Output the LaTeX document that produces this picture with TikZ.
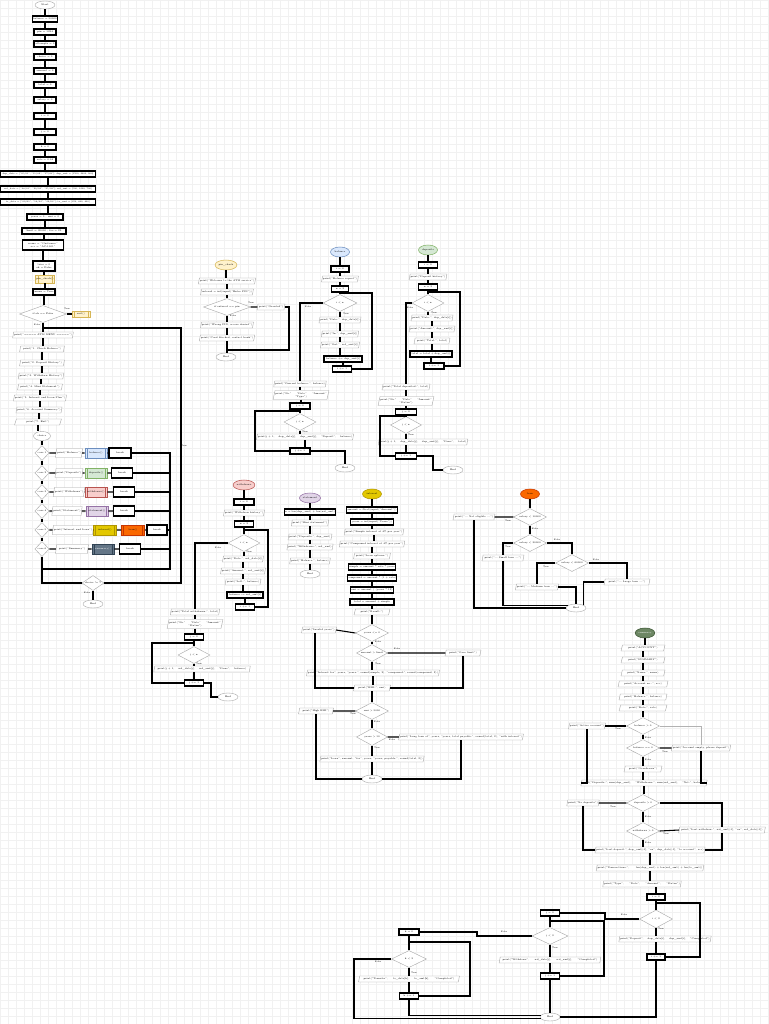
\documentclass[tikz,border=0pt]{standalone}
\usepackage{fontspec}
\usetikzlibrary{shapes.geometric}
\definecolor{lyel}{HTML}{FFF2CC}\definecolor{lyelD}{HTML}{D6B656}
\definecolor{lblue}{HTML}{DAE8FC}\definecolor{lblueD}{HTML}{6C8EBF}
\definecolor{lgreen}{HTML}{D5E8D4}\definecolor{lgreenD}{HTML}{82B366}
\definecolor{lred}{HTML}{F8CECC}\definecolor{lredD}{HTML}{B85450}
\definecolor{lpurple}{HTML}{E1D5E7}\definecolor{lpurpleD}{HTML}{9673A6}
\definecolor{gold}{HTML}{E3C800}\definecolor{goldD}{HTML}{B09500}
\definecolor{orng}{HTML}{FA6800}\definecolor{orngD}{HTML}{C73500}
\definecolor{slate}{HTML}{647687}\definecolor{slateD}{HTML}{314354}
\definecolor{dgreen}{HTML}{6D8764}\definecolor{dgreenD}{HTML}{3A5431}
\tikzset{
  every node/.style={font=\fontsize{1.8}{2.1}\selectfont, inner sep=0.3pt, align=center},
  sz/.style 2 args={minimum width=#1*0.75pt, minimum height=#2*0.75pt},
  term/.style={ellipse, draw=gray!70, line width=0.3pt, fill=white, sz={20}{8}},
  fstart/.style 2 args={ellipse, draw=#2, fill=#1, line width=0.4pt, sz={19}{10}},
  proc/.style={rectangle, draw=black, line width=0.9pt, fill=white, sz={#1}{6}},
  proc/.default=22,
  io/.style={trapezium, trapezium left angle=72, trapezium right angle=108, trapezium stretches=true,
    draw=gray!70, line width=0.3pt, fill=white, sz={#1}{6}},
  io/.default=40,
  dec/.style={diamond, aspect=2, draw=gray!70, line width=0.3pt, fill=white, sz={#1}{17}},
  dec/.default=33,
  sub/.style 2 args={rectangle, draw=#2, fill=#1, line width=0.7pt, sz={22}{10},
    path picture={\draw[#2, line width=0.4pt]
      ([xshift=1.6pt]path picture bounding box.north west) -- ([xshift=1.6pt]path picture bounding box.south west)
      ([xshift=-1.6pt]path picture bounding box.north east) -- ([xshift=-1.6pt]path picture bounding box.south east);}},
  flow/.style={draw=black, line width=0.8pt},
  lbl/.style={font=\fontsize{1.6}{1.9}\selectfont, inner sep=0},
  small/.style={font=\fontsize{1.6}{1.9}\selectfont},
}
\begin{document}
\begin{tikzpicture}[x=0.75pt, y=-0.75pt]
    \useasboundingbox (0,0) rectangle (768,1024);
    \fill[white] (0,0) rectangle (768,1024);
    \draw[gray!11, line width=0.15pt, step=6pt] (0,0) grid (768,1024);

    % Main program
    \node[term] (mS) at (45,5) {Start};
    \node[proc] (m1) at (45,19) {balance = 50000};
    \node[proc] (m2) at (45,32) {pin = 1234};
    \node[proc] (m3) at (45,44) {attempts = 0};
    \node[proc] (m4) at (45,57) {choice = 0};
    \node[proc] (m5) at (45,71) {amount = 0};
    \node[proc] (m6) at (45,85) {total = 0};
    \node[proc] (m7) at (45,100) {salary = 0};
    \node[proc] (m8) at (45,116) {i = 0};
    \node[proc] (m9) at (45,132) {j = 0};
    \node[proc] (m10) at (45,147) {k = 0};
    \node[proc] (m11) at (45,160) {rate = 0.04};
    \node[proc=95, small] (m12) at (48,174) {dep\_date = ["05/01", "11/02", "17/03"]; dep\_amt = [1500, 2300, 900]};
    \node[proc=95, small] (m13) at (48,189) {wd\_date = ["08/01", "20/02", "25/03"]; wd\_amt = [500, 1200, 700]};
    \node[proc=95, small] (m14) at (48,202) {tr\_date = ["09/01", "14/02", "29/03"]; tr\_amt = [250, 800, 400]};
    \node[proc=36] (m15) at (45,217) {years = 0 ; emi = 0};
    \node[proc=44] (m16) at (44,231) {limit = 20000 ; fee = 25};
    \node[proc=41, sz={41}{10}] (m17) at (43,245) {name = "Customer"\\acc = "AC-1001"};
    \node[proc, sz={22}{10}] (m18) at (44,266) {tries = 0\\ok = False};
    \node[sub={lyel}{lyelD}, sz={18}{8}] (m19) at (45,279) {pin\_check()};
    \node[proc] (m20) at (44,292) {menu = True};
    \node[dec=47] (mD1) at (43,314) {if ok == False};
    \node[sub={lyel}{lyelD}, sz={18}{6}] (mX) at (81,314) {exit()};
    \node[io=47] (m21) at (43,335) {print("===== ATM MENU =====")};
    \node[io=45] (m22) at (42,349) {print("1. Check Balance")};
    \node[io=45] (m23) at (42,363) {print("2. Deposit History")};
    \node[io=45] (m24) at (41,376) {print("3. Withdraw History")};
    \node[io=45] (m25) at (40,387) {print("4. Mini Statement")};
    \node[io=46] (m26) at (40,398) {print("5. Interest and Loan Plan")};
    \node[io=46] (m27) at (39,410) {print("6. Account Summary")};
    \node[io=47] (m28) at (38,422) {print("7. Exit")};
    \node[term, sz={17}{9}] (mIn) at (42,436) {choice};
    \node[dec=14, sz={14}{15}] (q1) at (42,453) {case 1};
    \node[dec=14, sz={14}{15}] (q2) at (42,473) {case 2};
    \node[dec=14, sz={14}{15}] (q3) at (42,492) {case 3};
    \node[dec=14, sz={14}{15}] (q4) at (42,511) {case 4};
    \node[dec=14, sz={14}{15}] (q5) at (42,530) {case 5};
    \node[dec=14, sz={14}{15}] (q6) at (42,549) {case 6};
    \node[io=27, sz={27}{9}] (qa1) at (69,453) {print("Balance")};
    \node[io=27, sz={27}{9}] (qa2) at (69,473) {print("Deposits")};
    \node[io=27, sz={27}{9}] (qa3) at (69,492) {print("Withdraws")};
    \node[io=25, sz={25}{9}] (qa4) at (67,511) {print("Statement")};
    \node[io=37, sz={37}{9}] (qa5) at (73,530) {print("Interest and Loan")};
    \node[io=33, sz={33}{9}] (qa6) at (72,549) {print("Summary")};
    \node[sub={lblue}{lblueD}] (qs1) at (96,453) {balance()};
    \node[sub={lgreen}{lgreenD}] (qs2) at (96,473) {deposits()};
    \node[sub={lred}{lredD}] (qs3) at (96,492) {withdraws()};
    \node[sub={lpurple}{lpurpleD}] (qs4) at (97,511) {statement()};
    \node[sub={gold}{goldD}, sz={23}{10}] (qs5) at (105,530) {interest()};
    \node[sub={orng}{orngD}, sz={23}{10}] (qs5b) at (133,530) {loan()};
    \node[sub={slate}{slateD}, text=white] (qs6) at (103,549) {summary()};
    \node[proc, sz={22}{10}] (qb1) at (120,453) {break};
    \node[proc, sz={21}{10}] (qb2) at (122,473) {break};
    \node[proc, sz={21}{10}] (qb3) at (124,492) {break};
    \node[proc, sz={21}{10}] (qb4) at (124,511) {break};
    \node[proc, sz={20}{10}] (qb5) at (157,530) {break};
    \node[proc, sz={21}{10}] (qb6) at (130,549) {break};
    \node[dec=20, sz={20}{15}] (mD2) at (93,583) {choice != 7};
    \node[term] (mE) at (93,604) {End};
    \node[lbl] (mt1) at (67,309) {True};
    \node[lbl] (mf1) at (37,325) {False};
    \node[lbl] (mt2) at (184,446) {True};
    \node[lbl] (mf2) at (87,593) {False};
    \coordinate (mr) at (170,569);
    \coordinate (ml) at (181,328);

    \foreach \a/\b in {mS/m1, m1/m2, m2/m3, m3/m4, m4/m5, m5/m6, m6/m7, m7/m8, m8/m9, m9/m10, m10/m11,
        m11/m12, m12/m13, m13/m14, m14/m15, m15/m16, m16/m17, m17/m18, m18/m19, m19/m20, m20/mD1,
        mD1/m21, m21/m22, m22/m23, m23/m24, m24/m25, m25/m26, m26/m27, m27/m28, m28/mIn,
        mIn/q1, q1/q2, q2/q3, q3/q4, q4/q5, q5/q6}
        \draw[flow] (\a.south) -- (\a.south |- \b.north);
    \draw[flow] (mD1.east) -- (mX.west);
    \draw[flow] (q1.east) -- (qa1.west) (qa1.east) -- (qs1.west) (qs1.east) -- (qb1.west);
    \draw[flow] (q2.east) -- (qa2.west) (qa2.east) -- (qs2.west) (qs2.east) -- (qb2.west);
    \draw[flow] (q3.east) -- (qa3.west) (qa3.east) -- (qs3.west) (qs3.east) -- (qb3.west);
    \draw[flow] (q4.east) -- (qa4.west) (qa4.east) -- (qs4.west) (qs4.east) -- (qb4.west);
    \draw[flow] (q5.east) -- (qa5.west) (qa5.east) -- (qs5.west) (qs5.east) -- (qs5b.west) (qs5b.east) -- (qb5.west);
    \draw[flow] (q6.east) -- (qa6.west) (qa6.east) -- (qs6.west) (qs6.east) -- (qb6.west);
    \draw[flow] (qb1.east) -| (mr) -- (mr -| q6);
    \draw[flow] (qb2.east) -- (qb2.east -| mr);
    \draw[flow] (qb3.east) -- (qb3.east -| mr);
    \draw[flow] (qb4.east) -- (qb4.east -| mr);
    \draw[flow] (qb5.east) -- (qb5.east -| mr);
    \draw[flow] (qb6.east) -- (qb6.east -| mr);
    \draw[flow] (q6.south) |- (mD2.west);
    \draw[flow] (mD2.east) -| (ml) -- (ml -| mD1);
    \draw[flow] (mD2.south) -- (mE.north);

    % pin check
    \node[fstart={lyel}{lyelD}] (pS) at (226,265) {pin\_check};
    \node[io=50] (p1) at (227,281) {print("Welcome to the ATM service")};
    \node[io=50] (p2) at (227,292) {entered = int(input("Enter PIN"))};
    \node[dec=47] (pD) at (227,307) {if entered == pin};
    \node[io=28] (pT) at (271,307) {print("Granted")};
    \node[io=49] (p3) at (227,325) {print("Wrong PIN, access denied")};
    \node[io=49] (p4) at (227,338) {print("Card blocked, contact bank")};
    \node[term] (pE) at (226,357) {End};
    \node[lbl] (pt1) at (251,303) {True};
    \node[lbl] (pf1) at (233,316) {False};
    \coordinate (pj) at (289,350);
    \foreach \a/\b in {pS/p1, p1/p2, p2/pD, pD/p3, p3/p4, p4/pE}
        \draw[flow] (\a.south) -- (\a.south |- \b.north);
    \draw[flow] (pD.east) -- (pT.west);
    \draw[flow] (pT.east) -| (pj) -- (pj -| pE);

    % balance
    \node[fstart={lblue}{lblueD}] (dS) at (340,252) {balance};
    \node[proc=18] (d1) at (340,269) {i = 0};
    \node[io=35] (d2) at (340,279) {print("Balance report")};
    \node[proc=17] (d3) at (340,289) {n = 3};
    \node[dec=34] (dD) at (340,303) {i < n};
    \node[io=36] (d4) at (340,320) {print("Date:", dep\_date[i])};
    \node[io=31] (d5) at (340,334) {print("In:", dep\_amt[i])};
    \node[io=31] (d6) at (340,345) {print("Out:", wd\_amt[i])};
    \node[proc=38] (d7) at (343,359) {balance += dep\_amt[i]};
    \node[proc=19] (d8) at (342,369) {i += 1};
    \node[io=49] (d9) at (300,384) {print("Current balance:", balance)};
    \node[io=51, sz={51}{9}] (d10) at (301,395) {print("No."\hspace{4pt}"Date"\hspace{4pt}"Amount"\\"Type")};
    \node[proc=20] (d11) at (300,406) {j = 0};
    \node[dec=32] (dD2) at (300,422) {j < n};
    \node[io=95] (d12) at (305,437) {print(j + 1,\hspace{3pt}dep\_date[j],\hspace{3pt}dep\_amt[j],\hspace{3pt}"Deposit",\hspace{3pt}balance)};
    \node[proc=20] (d13) at (300,451) {j += 1};
    \node[term] (dE) at (345,468) {End};
    \node[lbl] (df1) at (308,307) {False};
    \node[lbl] (dt1) at (346,314) {True};
    \node[lbl] (dt2) at (305,432) {True};
    \coordinate (dj) at (372,293);
    \coordinate (dl) at (255,411);
    \foreach \a/\b in {dS/d1, d1/d2, d2/d3, d3/dD, dD/d4, d4/d5, d5/d6, d6/d7, d7/d8,
        d9/d10, d10/d11, d11/dD2, dD2/d12, d12/d13}
        \draw[flow] (\a.south) -- (\a.south |- \b.north);
    \draw[flow] (d8.east) -| (dj) -- (dj -| d3);
    \draw[flow] (dD.west) -| (d9.north);
    \draw[flow] (d13.west) -| (dl) -- (dl -| d11);
    \draw[flow] (d13.east) -| (dE.north);

    % deposits
    \node[fstart={lgreen}{lgreenD}] (wS) at (428,250) {deposits};
    \node[proc=19] (w1) at (428,265) {i = 0};
    \node[io=35] (w2) at (428,277) {print("Deposit history")};
    \node[proc=19] (w3) at (428,287) {n = 3};
    \node[dec=32] (wD) at (428,303) {i < n};
    \node[io=40] (w4) at (432,318) {print("Date:", dep\_date[i])};
    \node[io=36] (w5) at (432,329) {print("Amount:", dep\_amt[i])};
    \node[io=36] (w6) at (432,341) {print("Total:", total)};
    \node[proc=42] (w7) at (431,354) {total = total + dep\_amt[i]};
    \node[proc=20] (w8) at (434,366) {i += 1};
    \node[io=48] (w9) at (406,387) {print("Total deposited:", total)};
    \node[io=48, sz={48}{9}] (w10) at (406,401) {print("No."\hspace{4pt}"Date"\hspace{4pt}"Amount"\\"Status")};
    \node[proc=21] (w11) at (406,412) {j = 0};
    \node[dec=31] (wD2) at (406,425) {j < n};
    \node[io=86] (w12) at (423,442) {print(j + 1,\hspace{3pt}dep\_date[j],\hspace{3pt}dep\_amt[j],\hspace{3pt}"Done",\hspace{3pt}total)};
    \node[proc=21] (w13) at (406,456) {j += 1};
    \node[term] (wE) at (453,470) {End};
    \node[lbl] (wf1) at (410,308) {False};
    \node[lbl] (wt1) at (434,313) {True};
    \node[lbl] (wt2) at (411,435) {True};
    \coordinate (wj) at (460,292);
    \coordinate (wl) at (380,416);
    \coordinate (wm) at (433,470);
    \foreach \a/\b in {wS/w1, w1/w2, w2/w3, w3/wD, wD/w4, w4/w5, w5/w6, w6/w7, w7/w8,
        w9/w10, w10/w11, w11/wD2, wD2/w12}
        \draw[flow] (\a.south) -- (\a.south |- \b.north);
    \draw[flow] (w13.north |- w12.south) -- (w13.north);
    \draw[flow] (w8.east) -| (wj) -- (wj -| w3);
    \draw[flow] (wD.west) -| (w9.north);
    \draw[flow] (w13.west) -| (wl) -- (wl -| w11);
    \draw[flow] (w13.east) -| (wm) -- (wE.west);

    % withdraws
    \node[fstart={lred}{lredD}] (rS) at (244,485) {withdraws};
    \node[proc=20] (r1) at (244,502) {i = 0};
    \node[io=37] (r2) at (244,513) {print("Withdraw history")};
    \node[proc=19] (r3) at (244,524) {n = 3};
    \node[dec=32] (rD) at (244,543) {i < n};
    \node[io=40] (r4) at (243,559) {print("Date:", wd\_date[i])};
    \node[io=36] (r5) at (243,571) {print("Amount:", wd\_amt[i])};
    \node[io=36] (r6) at (243,582) {print("Left:", balance)};
    \node[proc=36] (r7) at (245,595) {balance -= wd\_amt[i]};
    \node[proc=19] (r8) at (245,607) {i += 1};
    \node[io=48] (r9) at (195,612) {print("Total withdrawn:", total)};
    \node[io=48, sz={48}{9}] (r10) at (195,624) {print("No."\hspace{4pt}"Date"\hspace{4pt}"Amount"\\"Status")};
    \node[proc=19] (r11) at (194,637) {j = 0};
    \node[dec=32] (rD2) at (194,655) {j < n};
    \node[io=97] (r12) at (202,669) {print(j + 1,\hspace{3pt}wd\_date[j],\hspace{3pt}wd\_amt[j],\hspace{3pt}"Done",\hspace{3pt}balance)};
    \node[proc=19] (r13) at (194,683) {j += 1};
    \node[term] (rE) at (228,697) {End};
    \node[lbl] (rf1) at (218,548) {False};
    \node[lbl] (rt1) at (249,552) {True};
    \node[lbl] (rt2) at (199,664) {True};
    \coordinate (rj) at (268,530);
    \coordinate (rl) at (152,643);
    \coordinate (rm) at (211,697);
    \foreach \a/\b in {rS/r1, r1/r2, r2/r3, r3/rD, rD/r4, r4/r5, r5/r6, r6/r7, r7/r8,
        r9/r10, r10/r11, r11/rD2, rD2/r12}
        \draw[flow] (\a.south) -- (\a.south |- \b.north);
    \draw[flow] (r13.north |- r12.south) -- (r13.north);
    \draw[flow] (r8.east) -| (rj) -- (rj -| r3);
    \draw[flow] (rD.west) -| (r9.north);
    \draw[flow] (r13.west) -| (rl) -- (rl -| r11);
    \draw[flow] (r13.east) -| (rm) -- (rE.west);

    % statement
    \node[fstart={lpurple}{lpurpleD}] (uS) at (310,498) {statement};
    \node[proc=44, line width=1.1pt] (u1) at (310,512) {n = len(dep\_amt) + len(wd\_amt)};
    \node[io=36] (u2) at (310,523) {print("Mini statement")};
    \node[io=36] (u3) at (310,537) {print("Deposits:", dep\_amt)};
    \node[io=36] (u4) at (310,547) {print("Withdraws:", wd\_amt)};
    \node[io=36] (u5) at (310,561) {print("Balance:", balance)};
    \node[term] (uE) at (310,574) {End};
    \foreach \a/\b in {uS/u1, u1/u2, u2/u3, u3/u4, u4/u5, u5/uE}
        \draw[flow] (\a.south) -- (\a.south |- \b.north);

    % interest
    \node[fstart={gold}{goldD}] (gS) at (372,494) {interest};
    \node[proc=43] (g1) at (372,510) {amount = float(input("Amount"))};
    \node[proc=43] (g2) at (372,522) {years = int(input("Years"))};
    \node[io=54] (g3) at (374,532) {print("Simple interest at 4\% per year")};
    \node[io=54] (g4) at (372,544) {print("Compound interest at 4\% per year")};
    \node[io=37] (g5) at (372,556) {print("Loan options:")};
    \node[proc=45] (g6) at (372,567) {simple = amount * rate * years};
    \node[proc=45] (g7) at (372,578) {compound = amount * (1 + rate)};
    \node[proc=43] (g8) at (372,590) {emi = amount / (years * 12)};
    \node[proc=44] (g9) at (372,602) {total = amount + simple};
    \node[io=36] (g10) at (372,612) {print("Result:")};
    \node[dec=33] (gD1) at (372,633) {years <= 0};
    \node[io=35] (gL1) at (319,630) {print("Invalid years")};
    \node[dec=31] (gD2) at (372,653) {amount > limit};
    \node[io=36] (gR1) at (463,653) {print("Over limit")};
    \node[io=110] (g11) at (373,673) {print("Interest for", years, "years:", round(simple, 2), "compound:", round(compound, 2))};
    \node[io=37] (g12) at (372,688) {print("EMI:", emi)};
    \node[dec=33] (gD3) at (372,711) {emi > 5000};
    \node[io=35] (gL2) at (316,711) {print("High EMI")};
    \node[dec=31] (gD4) at (372,737) {years > 10};
    \node[io=112] (gR2) at (461,737) {print("Long loan of", years, "years, total payable:", round(total, 2), "with interest")};
    \node[io=90] (g13) at (372,759) {print("Loan", amount, "for", years, "years, payable:", round(total, 2))};
    \node[term] (gE) at (372,779) {End};
    \node[lbl] (gf1) at (378,642) {False};
    \node[lbl] (gf2) at (397,649) {False};
    \node[lbl] (gt2) at (378,664) {True};
    \node[lbl] (gt3) at (353,714) {True};
    \node[lbl] (gf3) at (377,722) {False};
    \node[lbl] (gf4) at (392,740) {False};
    \node[lbl] (gt4) at (377,748) {True};
    \coordinate (gl) at (315,689);
    \foreach \a/\b in {gS/g1, g1/g2, g2/g3, g3/g4, g4/g5, g5/g6, g6/g7, g7/g8, g8/g9, g9/g10,
        g10/gD1, gD1/gD2, gD2/g11, g11/g12, g12/gD3, gD3/gD4, gD4/g13, g13/gE}
        \draw[flow] (\a.south) -- (\a.south |- \b.north);
    \draw[flow] (gD1.west) -- (gL1.east);
    \draw[flow] (gL1.south -| gl) |- (g12.west);
    \draw[flow] (gD2.east) -- (gR1.west);
    \draw[flow] (gR1.south) |- (g12.east);
    \draw[flow] (gD3.west) -- (gL2.east);
    \draw[flow] (gL2.south) |- (gE.west);
    \draw[flow] (gD4.east) -- (gR2.west);
    \draw[flow] (gR2.south) |- (gE.east);

    % loan
    \node[fstart={orng}{orngD}] (oS) at (530,494) {loan};
    \node[dec=33] (oD1) at (530,517) {salary < 10000};
    \node[io=42] (oL1) at (474,517) {print("--- Not eligible ---")};
    \node[dec=33] (oD2) at (530,543) {salary < 30000};
    \node[io=42] (oL2) at (503,558) {print("--- Small loan ---")};
    \node[dec=33] (oD3) at (572,563) {salary < 60000};
    \node[io=42] (oL3) at (537,587) {print("--- Medium loan ---")};
    \node[io=46] (oR3) at (627,582) {print("--- Large loan ---")};
    \node[term] (oE) at (576,608) {End};
    \node[lbl] (ot1) at (508,521) {True};
    \node[lbl] (of1) at (535,529) {False};
    \node[lbl] (ot2) at (508,547) {True};
    \node[lbl] (of2) at (557,540) {False};
    \node[lbl] (ot3) at (546,567) {True};
    \node[lbl] (of3) at (596,560) {False};
    \draw[flow] (oS.south) -- (oD1.north);
    \draw[flow] (oD1.south) -- (oD2.north);
    \draw[flow] (oD1.west) -- (oL1.east);
    \draw[flow] (oD2.west) -| (oL2.north);
    \draw[flow] (oD2.east) -| (oD3.north);
    \draw[flow] (oD3.west) -| (oL3.north);
    \draw[flow] (oD3.east) -| (oR3.north);
    \draw[flow] (oL1.south) |- (oE.west);
    \draw[flow] (oL2.south) |- (oE.160);
    \draw[flow] (oL3.east) -| (oE.north);
    \draw[flow] (oR3.west) -| (oE.20);

    % summary
    \node[fstart={dgreen}{dgreenD}, text=white] (kS) at (645,633) {summary};
    \node[io=44] (k1) at (643,648) {print("ACCOUNT")};
    \node[io=44] (k2) at (643,660) {print("SUMMARY")};
    \node[io=44] (k3) at (643,673) {print("Name:", name)};
    \node[io=50] (k4) at (643,684) {print("Account no.:", acc)};
    \node[io=48] (k5) at (643,697) {print("Balance:", balance)};
    \node[io=48] (k6) at (643,708) {print("Rate:", rate)};
    \node[dec=33] (kD1) at (643,726) {balance > 0};
    \node[io=35] (kL1) at (587,726) {print("Active account")};
    \node[dec=33] (kD2) at (643,748) {balance == 0};
    \node[io=52] (kR2) at (701,748) {print("Account empty, please deposit")};
    \node[io=38] (k7) at (643,769) {print("Overdrawn")};
    \node[io=110] (k8) at (644,783) {print("Deposits:", sum(dep\_amt),\hspace{3pt}"Withdraws:", sum(wd\_amt),\hspace{3pt}"Net:", balance)};
    \node[dec=33] (kD3) at (643,803) {deposits > 0};
    \node[io=32] (kL3) at (583,803) {print("No deposits")};
    \node[dec=33] (kD4) at (643,831) {withdraws > 0};
    \node[io=87] (kR4) at (722,830) {print("Last withdraw:", wd\_amt[-1], "on", wd\_date[-1])};
    \node[io=103] (k9) at (650,850) {print("Last deposit:", dep\_amt[-1], "on", dep\_date[-1], "to account", acc)};
    \node[io=104] (k10) at (650,868) {print("Transactions:",\hspace{5pt}len(dep\_amt) + len(wd\_amt) + len(tr\_amt))};
    \node[io=77] (k11) at (642,884) {print("Type",\hspace{4pt}"Date",\hspace{4pt}"Amount",\hspace{4pt}"Status")};
    \node[proc=18] (k12) at (656,897) {i = 0};
    \node[lbl] (kt1) at (618,729) {True};
    \node[lbl] (kf1) at (648,738) {False};
    \node[lbl] (kt2) at (665,752) {True};
    \node[lbl] (kf2) at (648,760) {False};
    \node[lbl] (kt3) at (613,807) {True};
    \node[lbl] (kf3) at (648,817) {False};
    \node[lbl] (kt4) at (666,834) {True};
    \node[lbl] (kf4) at (648,843) {False};
    \foreach \a/\b in {kS/k1, k1/k2, k2/k3, k3/k4, k4/k5, k5/k6, k6/kD1, kD1/kD2, kD2/k7, k7/k8,
        k8/kD3, kD3/kD4, kD4/k9, k9/k10, k10/k11}
        \draw[flow] (\a.south) -- (\a.south |- \b.north);
    \draw[flow] (k12.north |- k11.south) -- (k12.north);
    \draw[flow] (kD1.west) -- (kL1.east);
    \draw[flow] (kL1.south) |- (k8.west);
    \draw[draw=gray!60, line width=0.4pt] (kD1.east) -| (kR2.north);
    \draw[flow] (kD2.east) -- (kR2.west);
    \draw[flow] (kR2.south) |- (k8.east);
    \draw[flow] (kD3.west) -- (kL3.east);
    \draw[flow] (kL3.south) |- (k9.west);
    \draw[flow] (kD3.east) -| (kR4.north);
    \draw[flow] (kD4.east) -- (kR4.west);
    \draw[flow] (kR4.south) |- (k9.east);

    % history loops
    \node[dec=33, sz={33}{18}] (bD1) at (656,919) {i < 3};
    \node[io=88] (b1) at (665,939) {print("Deposit",\hspace{3pt}dep\_date[i],\hspace{3pt}dep\_amt[i],\hspace{3pt}"Completed")};
    \node[proc=18] (b2) at (656,957) {i += 1};
    \node[proc=19] (c1) at (550,913) {j = 0};
    \node[dec=36] (cD) at (550,936) {j < 3};
    \node[io=102] (c2) at (550,960) {print("Withdraw",\hspace{4pt}wd\_date[j],\hspace{4pt}wd\_amt[j],\hspace{4pt}"Completed")};
    \node[proc=19] (c3) at (550,976) {j += 1};
    \node[proc=20] (e1) at (409,932) {k = 0};
    \node[dec=35] (eD) at (409,959) {k < 3};
    \node[io=101] (e2) at (409,979) {print("Transfer",\hspace{4pt}tr\_date[k],\hspace{4pt}tr\_amt[k],\hspace{4pt}"Completed")};
    \node[proc=19] (e3) at (409,996) {k += 1};
    \node[term] (bE) at (550,1017) {End};
    \node[lbl] (bf1) at (624,915) {False};
    \node[lbl] (bt1) at (661,929) {True};
    \node[lbl] (cf1) at (504,932) {False};
    \node[lbl] (ct1) at (555,948) {True};
    \node[lbl] (ef1) at (378,962) {False};
    \node[lbl] (et1) at (414,973) {True};
    \coordinate (bj) at (700,903);
    \coordinate (bk) at (605,919);
    \coordinate (cj) at (604,921);
    \coordinate (ck) at (477,936);
    \coordinate (ej) at (470,942);
    \coordinate (ek) at (354,1000);
    \foreach \a/\b in {k12/bD1, bD1/b1, c1/cD, cD/c2, c2/c3, c3/bE, e1/eD, eD/e2, e2/e3}
        \draw[flow] (\a.south) -- (\a.south |- \b.north);
    \draw[flow] (b2.north |- b1.south) -- (b2.north);
    \draw[flow] (b2.east) -| (bj) -- (bj -| k12);
    \draw[flow] (bD1.west) -- (bk) |- (c1.east);
    \draw[flow] (b2.south) |- (bE.east);
    \draw[flow] (c3.east) -| (cj) -- (cj -| c1);
    \draw[flow] (cD.west) -- (ck) |- (e1.east);
    \draw[flow] (e3.east) -| (ej) -- (ej -| e1);
    \draw[flow] (eD.west) -| (ek) |- (bE.190);
    \draw[flow] (e3.south) |- (bE.170);
\end{tikzpicture}
\end{document}
